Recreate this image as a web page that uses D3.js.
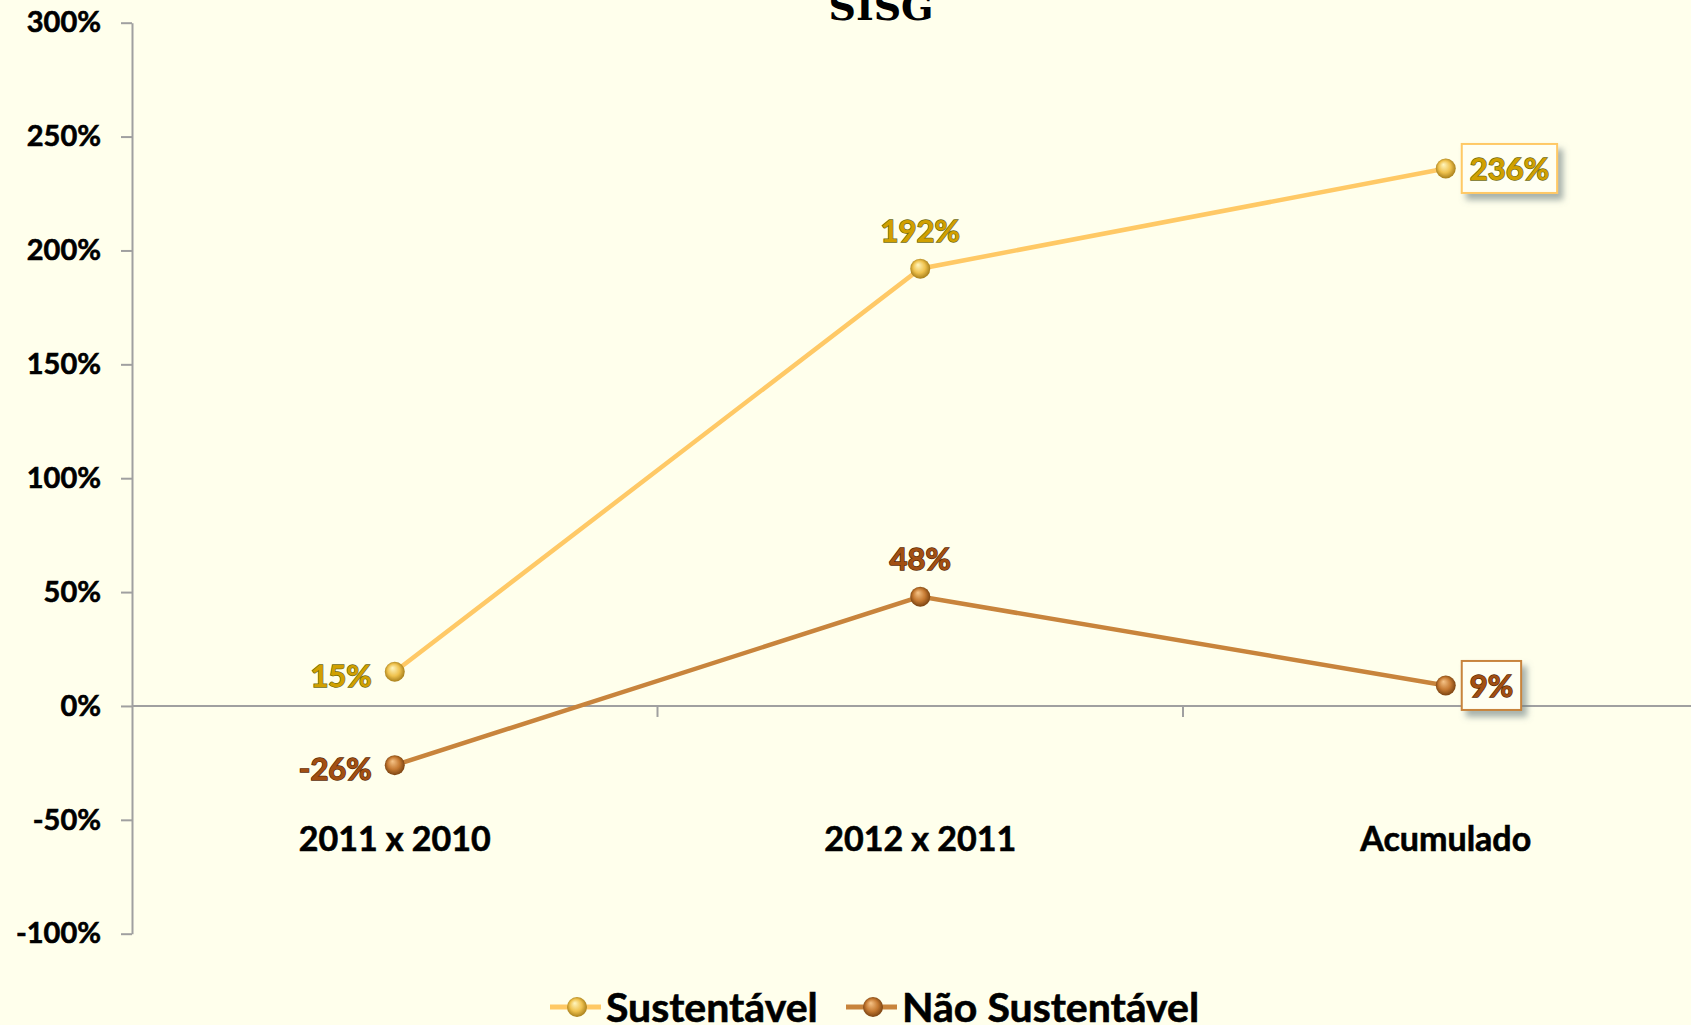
<!DOCTYPE html>
<html>
<head>
<meta charset="utf-8">
<script src="https://cdn.jsdelivr.net/npm/d3@7"></script>
<style>
  body { margin: 0; background: #ffffec; }
  svg { display: block; }
  text { font-family: Lato, "Open Sans", sans-serif; font-weight: bold; }
</style>
</head>
<body>
<div id="chart"></div>
<script>
// chart data
const categories = ["2011 x 2010", "2012 x 2011", "Acumulado"];
const sustentavel = [0.15, 1.92, 2.36];
const naoSustentavel = [-0.26, 0.48, 0.09];
const yTicks = [-1, -0.5, 0, 0.5, 1, 1.5, 2, 2.5, 3];
const seriesNames = ["Sustentável", "Não Sustentável"];

const width = 1691,
  height = 1025;

// percent format with a plain hyphen for negatives
const pct = d3.formatLocale({ decimal: ",", thousands: ".", grouping: [3], currency: ["", ""], minus: "-" }).format(".0%");

const svg = d3
  .select("#chart")
  .append("svg")
  .attr("width", width)
  .attr("height", height);

const defs = svg.append("defs");

// series styles
const series = [
  {
    name: seriesNames[0],
    values: sustentavel,
    line: "#ffc966",
    label: "#d1a000",
    outline: "#6f6a10",
    ball: ["#fff6c0", "#efc24e", "#9c7412"],
  },
  {
    name: seriesNames[1],
    values: naoSustentavel,
    line: "#c8843c",
    label: "#a24f12",
    outline: "#5a2a05",
    ball: ["#f6c488", "#c67a32", "#6e3a0c"],
  },
];

series.forEach((s, i) => {
  const g = defs
    .append("radialGradient")
    .attr("id", "ball" + i)
    .attr("cx", "50%")
    .attr("cy", "50%")
    .attr("r", "55%")
    .attr("fx", "38%")
    .attr("fy", "30%");
  g.append("stop").attr("offset", "0%").attr("stop-color", s.ball[0]);
  g.append("stop").attr("offset", "55%").attr("stop-color", s.ball[1]);
  g.append("stop").attr("offset", "100%").attr("stop-color", s.ball[2]);
});

// drop shadow for boxed labels
const shadow = defs.append("filter").attr("id", "shadow").attr("x", "-20%").attr("y", "-20%").attr("width", "160%").attr("height", "160%");
shadow
  .append("feDropShadow")
  .attr("dx", 5)
  .attr("dy", 6)
  .attr("stdDeviation", 3)
  .attr("flood-color", "#6d7f80")
  .attr("flood-opacity", 0.6);

const soft = defs.append("filter").attr("id", "soft");
soft.append("feGaussianBlur").attr("stdDeviation", 0.6);

// scales
const x = d3.scaleBand().domain(categories).range([132, 1708.5]);
const y = d3.scaleLinear().domain([-1, 3]).range([933.7, 22.7]);
const cx = (c) => x(c) + x.bandwidth() / 2;

// Y axis
const yAxis = svg
  .append("g")
  .attr("transform", "translate(132,0)")
  .call(
    d3
      .axisLeft(y)
      .tickValues(yTicks)
      .tickFormat(pct)
      .tickSize(11)
      .tickSizeOuter(0)
      .tickPadding(20)
  );
yAxis.select(".domain").attr("stroke", "#a0a0a0").attr("stroke-width", 2);
yAxis.selectAll(".tick line").attr("stroke", "#a0a0a0").attr("stroke-width", 2);
yAxis
  .selectAll(".tick text")
  .attr("fill", "#000")
  .attr("stroke", "#000")
  .attr("stroke-width", 0.6)
  .style("font-size", "29px")
  .style("font-family", "Lato, sans-serif")
  .style("font-weight", "bold");

// X axis line at zero
svg
  .append("line")
  .attr("x1", x.range()[0])
  .attr("x2", x.range()[1])
  .attr("y1", y(0))
  .attr("y2", y(0))
  .attr("stroke", "#a0a0a0")
  .attr("stroke-width", 2);

svg
  .selectAll("xticks")
  .data(categories.slice(1))
  .join("line")
  .attr("x1", (d) => x(d))
  .attr("x2", (d) => x(d))
  .attr("y1", y(0))
  .attr("y2", y(0) + 11)
  .attr("stroke", "#a0a0a0")
  .attr("stroke-width", 2);

// category labels (placed low, below the plot)
svg
  .selectAll("xlabels")
  .data(categories)
  .join("text")
  .attr("x", (d) => cx(d))
  .attr("y", 851)
  .attr("text-anchor", "middle")
  .style("font-size", "34px")
  .attr("fill", "#000")
  .attr("stroke", "#000")
  .attr("stroke-width", 0.6)
  .text((d) => d);

// lines, markers and data labels
const line = d3
  .line()
  .x((d, i) => cx(categories[i]))
  .y((d) => y(d));

series.forEach((s, si) => {
  svg
    .append("path")
    .datum(s.values)
    .attr("d", line)
    .attr("fill", "none")
    .attr("stroke", s.line)
    .attr("stroke-width", 4.5);
});

series.forEach((s, si) => {
  svg
    .selectAll("balls" + si)
    .data(s.values)
    .join("circle")
    .attr("cx", (d, i) => cx(categories[i]))
    .attr("cy", (d) => y(d))
    .attr("r", 10)
    .attr("fill", `url(#ball${si})`)
    .attr("filter", "url(#soft)");
});

function dataLabel(s, i) {
  const v = s.values[i];
  const px = cx(categories[i]),
    py = y(v);
  const g = svg.append("g");
  const t = g
    .append("text")
    .text(pct(v))
    .style("font-size", "31px")
    .attr("fill", s.label)
    .attr("stroke", s.outline)
    .attr("stroke-width", 1.4)
    .attr("paint-order", "stroke");

  if (i === 0) {
    t.attr("x", px - 23).attr("y", py + 15).attr("text-anchor", "end");
  } else if (i === 1) {
    t.attr("x", px).attr("y", py - 27).attr("text-anchor", "middle");
  } else {
    // last point: boxed label on the right
    const w = t.node().getComputedTextLength();
    const bx = px + 16,
      bh = 49,
      by = py - bh / 2;
    g.insert("rect", "text")
      .attr("x", bx)
      .attr("y", by)
      .attr("width", w + 16)
      .attr("height", bh)
      .attr("fill", "#fffff2")
      .attr("stroke", s.line)
      .attr("stroke-width", 2)
      .attr("filter", "url(#shadow)");
    t.attr("x", bx + 8).attr("y", py + 12).attr("text-anchor", "start");
  }
}

series.forEach((s) => {
  s.values.forEach((v, i) => dataLabel(s, i));
});

// Title (cut at the top edge)
svg
  .append("text")
  .attr("x", 881)
  .attr("y", 20)
  .attr("text-anchor", "middle")
  .style("font-family", "'DejaVu Serif', serif")
  .style("font-size", "38px")
  .style("font-weight", "bold")
  .attr("fill", "#000")
  .text("SISG");

// Legend
const legend = svg.append("g").attr("class", "legend");
const legendX = [550, 846];

series.forEach((s, si) => {
  const lx = legendX[si];
  legend
    .append("line")
    .attr("x1", lx)
    .attr("x2", lx + 51)
    .attr("y1", 1007)
    .attr("y2", 1007)
    .attr("stroke", s.line)
    .attr("stroke-width", 5);
  legend
    .append("circle")
    .attr("cx", lx + 27)
    .attr("cy", 1007)
    .attr("r", 10)
    .attr("fill", `url(#ball${si})`)
    .attr("filter", "url(#soft)");
  legend
    .append("text")
    .attr("x", lx + 56)
    .attr("y", 1022)
    .style("font-size", "41px")
    .attr("fill", "#000")
    .attr("stroke", "#000")
    .attr("stroke-width", 0.6)
    .text(s.name);
});
</script>
</body>
</html>
